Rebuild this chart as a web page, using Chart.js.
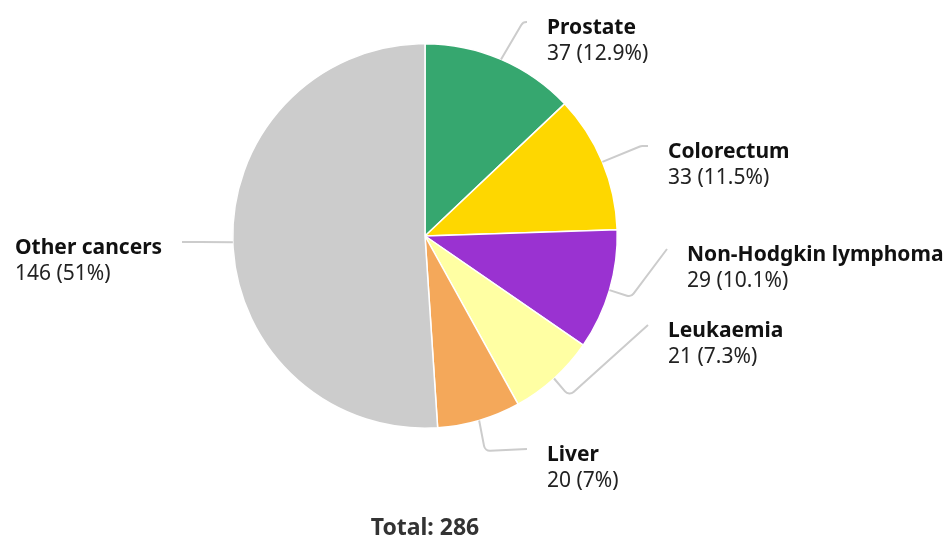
<!DOCTYPE html>
<html lang="en">
<head>
  <meta charset="UTF-8" />
  <title>Cancer cases</title>
  <script src="https://cdn.jsdelivr.net/npm/chart.js"></script>
  <style>
    html, body { margin: 0; padding: 0; background: #fff; }
    .wrap { width: 949px; height: 540px; position: relative; }
  </style>
</head>
<body>
  <div class="wrap">
    <canvas id="pieChart"></canvas>
  </div>

  <script>
    // data
    const categories = ['Prostate', 'Colorectum', 'Non-Hodgkin lymphoma', 'Leukaemia', 'Liver', 'Other cancers'];
    const cases = [37, 33, 29, 21, 20, 146];
    const total = 286;

    const colors = ['#36a76f', '#fed700', '#9a32d1', '#ffffa3', '#f4a85a', '#cccccc'];

    // leader line bend / end points, relative to pie centre
    const leaders = [
      { bend: [98, -214], end: [102, -214], side: 'right' },
      { bend: [216, -90], end: [223, -90], side: 'right' },
      { bend: [206, 61], end: [242, 13], side: 'right' },
      { bend: [144, 160], end: [223, 89], side: 'right' },
      { bend: [60, 215], end: [102, 213], side: 'right' },
      { bend: [-225, 6], end: [-243, 6], side: 'left' }
    ];

    function pct(v) {
      const p = Math.round(v / total * 1000) / 10;
      return v + ' (' + p + '%)';
    }

    const labelPlugin = {
      id: 'pieLabels',
      afterDatasetsDraw(chart) {
        const ctx = chart.ctx;
        const arcs = chart.getDatasetMeta(0).data;
        ctx.save();
        arcs.forEach((arc, i) => {
          const cx = arc.x, cy = arc.y;
          const mid = (arc.startAngle + arc.endAngle) / 2;
          const r = arc.outerRadius;
          const sx = cx + Math.cos(mid) * r;
          const sy = cy + Math.sin(mid) * r;
          const L = leaders[i];
          const bx = cx + L.bend[0], by = cy + L.bend[1];
          const ex = cx + L.end[0], ey = cy + L.end[1];

          ctx.strokeStyle = '#cccccc';
          ctx.lineWidth = 2;
          ctx.beginPath();
          ctx.moveTo(sx, sy);
          ctx.arcTo(bx, by, ex, ey, 6);
          ctx.lineTo(ex, ey);
          ctx.stroke();

          // "Other cancers" sits at the left edge, left aligned
          const tx = L.side === 'right' ? ex + 20 : 15;
          ctx.textAlign = 'left';
          ctx.textBaseline = 'middle';
          ctx.fillStyle = '#111';
          ctx.font = 'bold 21px "Noto Sans"';
          ctx.fillText(categories[i], tx, ey + 6);
          ctx.fillStyle = '#222';
          ctx.font = '21px "Noto Sans"';
          ctx.fillText(pct(cases[i]), tx, ey + 32);
        });

        const cx = arcs[0].x;
        ctx.textAlign = 'center';
        ctx.textBaseline = 'middle';
        ctx.fillStyle = '#333';
        ctx.font = 'bold 23px "Noto Sans"';
        ctx.fillText('Total: ' + total, cx, 528);
        ctx.restore();
      }
    };

    const ctx = document.getElementById('pieChart').getContext('2d');
    const pieChart = new Chart(ctx, {
      type: 'pie',
      data: {
        labels: categories,
        datasets: [{
          data: cases,
          backgroundColor: colors,
          borderColor: '#ffffff',
          borderWidth: 1.5
        }]
      },
      options: {
        responsive: true,
        maintainAspectRatio: false,
        animation: false,
        layout: {
          padding: { left: 232, right: 331, top: 42, bottom: 110 }
        },
        plugins: {
          legend: { display: false },
          tooltip: { enabled: false }
        }
      },
      plugins: [labelPlugin]
    });
  </script>
</body>
</html>
